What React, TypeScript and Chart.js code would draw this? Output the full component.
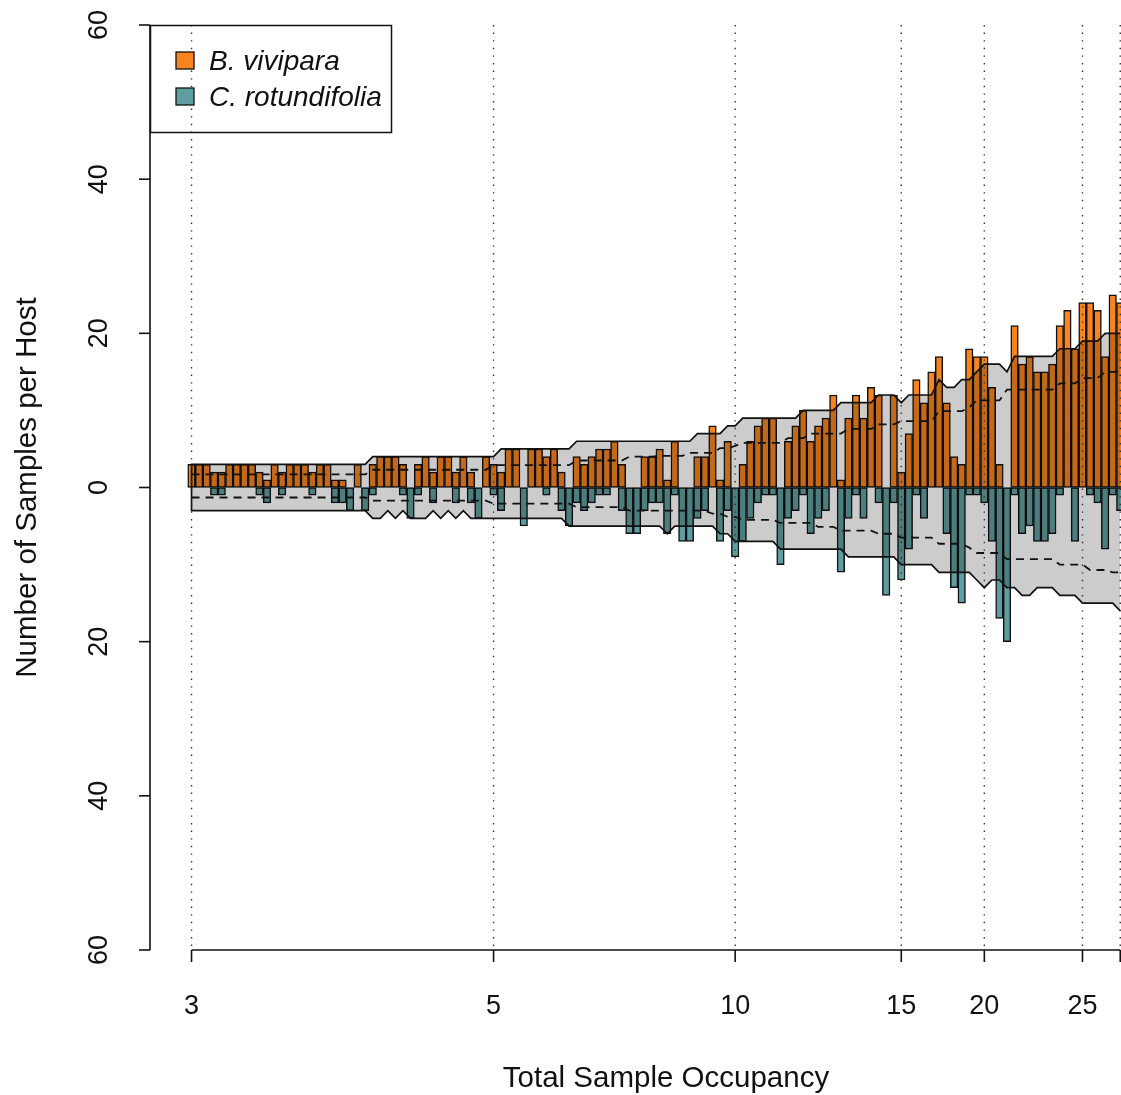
import React, { useEffect, useRef } from 'react';
import { Chart, registerables } from 'chart.js';

Chart.register(...registerables);

// Bars ordered by total sample occupancy (rank index along the x axis)
const vivipara = [
  3, 3, 3, 2, 2, 3, 3, 3, 3, 2,
  1, 3, 2, 3, 3, 3, 2, 3, 3, 1,
  1, 0, 3, 0, 3, 4, 4, 4, 3, 0,
  3, 4, 2, 4, 4, 2, 4, 2, 0, 4,
  3, 2, 5, 5, 0, 5, 5, 4, 5, 2,
  0, 4, 3, 4, 5, 5, 6, 3, 0, 0,
  4, 4, 5, 1, 6, 0, 0, 4, 4, 8,
  1, 6, 0, 3, 6, 8, 9, 9, 0, 6,
  8, 10, 6, 8, 9, 12, 1, 9, 12, 9,
  13, 12, 0, 12, 2, 7, 14, 11, 15, 17,
  11, 4, 3, 18, 17, 17, 13, 3, 0, 21,
  16, 17, 15, 15, 16, 21, 23, 18, 24, 24,
  23, 17, 25, 24,
];
const rotundifolia = [
  0, 0, 0, 1, 1, 0, 0, 0, 0, 1,
  2, 0, 1, 0, 0, 0, 1, 0, 0, 2,
  2, 3, 0, 3, 1, 0, 0, 0, 1, 4,
  1, 0, 2, 0, 0, 2, 0, 2, 4, 0,
  1, 3, 0, 0, 5, 0, 0, 1, 0, 3,
  5, 2, 3, 2, 1, 1, 0, 3, 6, 6,
  3, 2, 2, 6, 1, 7, 7, 4, 3, 0,
  7, 3, 9, 7, 4, 2, 1, 1, 10, 4,
  3, 1, 6, 4, 3, 0, 11, 4, 1, 4,
  0, 2, 14, 2, 12, 8, 1, 4, 0, 0,
  6, 13, 15, 1, 1, 2, 7, 17, 20, 1,
  6, 5, 7, 7, 6, 1, 0, 7, 0, 1,
  2, 8, 1, 3,
];
// null-model envelope (upper bound for each host) and expectation
const viviparaUpper = [
  3, 3, 3, 3, 3, 3, 3, 3, 3, 3,
  3, 3, 3, 3, 3, 3, 3, 3, 3, 3,
  3, 3, 3, 3, 4, 4, 4, 4, 4, 4,
  4, 4, 4, 4, 4, 4, 4, 4, 4, 4,
  4, 5, 5, 5, 5, 5, 5, 5, 5, 5,
  5, 6, 6, 6, 6, 6, 6, 6, 6, 6,
  6, 6, 6, 6, 6, 6, 6, 7, 7, 7,
  7, 8, 8, 9, 9, 9, 9, 9, 9, 9,
  9, 10, 10, 10, 10, 10, 11, 11, 11, 11,
  11, 12, 12, 12, 11, 12, 12, 12, 12, 14,
  13, 13, 14, 14, 15, 16, 16, 16, 15, 17,
  17, 17, 17, 17, 17, 18, 18, 18, 19, 19,
  19, 20, 20, 20,
];
const rotundifoliaUpper = [
  3, 3, 3, 3, 3, 3, 3, 3, 3, 3,
  3, 3, 3, 3, 3, 3, 3, 3, 3, 3,
  3, 3, 3, 3, 4, 4, 3, 4, 3, 4,
  4, 4, 3, 4, 3, 4, 3, 4, 4, 4,
  4, 4, 4, 4, 4, 4, 4, 4, 4, 4,
  5, 5, 5, 5, 5, 5, 5, 5, 5, 5,
  5, 5, 5, 6, 5, 5, 5, 5, 5, 5,
  6, 6, 7, 7, 7, 7, 7, 7, 8, 8,
  8, 8, 8, 8, 8, 8, 8, 9, 9, 9,
  9, 9, 9, 9, 10, 10, 10, 10, 10, 11,
  11, 11, 11, 11, 12, 13, 12, 12, 13, 13,
  14, 14, 13, 13, 13, 14, 14, 14, 15, 15,
  15, 15, 15, 16,
];
const viviparaExpected = [
  1.7, 1.7, 1.7, 1.7, 1.7, 1.7, 1.7, 1.7, 1.7, 1.7,
  1.7, 1.7, 1.7, 1.7, 1.7, 1.7, 1.7, 1.7, 1.7, 1.7,
  1.7, 1.7, 1.7, 1.7, 2.3, 2.3, 2.3, 2.3, 2.3, 2.3,
  2.3, 2.3, 2.3, 2.3, 2.3, 2.3, 2.3, 2.3, 2.3, 2.3,
  2.9, 2.9, 2.9, 2.9, 2.9, 2.9, 2.9, 2.9, 2.9, 2.9,
  2.9, 3.5, 3.5, 3.5, 3.5, 3.5, 3.5, 3.5, 4.0, 4.0,
  4.0, 4.0, 4.1, 4.1, 4.1, 4.1, 4.5, 4.5, 4.5, 4.5,
  5.1, 5.1, 5.4, 5.8, 5.8, 5.8, 5.8, 5.8, 5.8, 6.4,
  6.4, 6.4, 7.0, 7.0, 7.0, 7.0, 7.0, 7.6, 7.6, 7.6,
  7.6, 8.2, 8.2, 8.2, 8.6, 8.6, 8.6, 8.6, 8.6, 9.9,
  9.9, 9.9, 9.9, 10.4, 11.3, 11.3, 11.3, 11.3, 12.7, 12.7,
  12.7, 12.7, 12.7, 12.7, 12.7, 13.5, 13.5, 13.5, 14.2, 14.2,
  14.2, 15.0, 15.0, 15.0,
];
const rotundifoliaExpected = [
  1.3, 1.3, 1.3, 1.3, 1.3, 1.3, 1.3, 1.3, 1.3, 1.3,
  1.3, 1.3, 1.3, 1.3, 1.3, 1.3, 1.3, 1.3, 1.3, 1.3,
  1.3, 1.3, 1.3, 1.3, 1.7, 1.7, 1.7, 1.7, 1.7, 1.7,
  1.7, 1.7, 1.7, 1.7, 1.7, 1.7, 1.7, 1.7, 1.7, 1.7,
  2.1, 2.1, 2.1, 2.1, 2.1, 2.1, 2.1, 2.1, 2.1, 2.1,
  2.1, 2.55, 2.55, 2.55, 2.55, 2.55, 2.55, 2.55, 3.0, 3.0,
  3.0, 3.0, 3.0, 3.0, 3.0, 3.0, 3.0, 3.0, 3.0, 3.4,
  3.4, 3.8, 3.8, 4.2, 4.2, 4.2, 4.2, 4.2, 4.6, 4.6,
  4.6, 4.6, 4.6, 5.1, 5.1, 5.1, 5.6, 5.6, 5.6, 5.6,
  5.6, 6.0, 6.0, 6.0, 6.5, 6.5, 6.5, 6.5, 6.5, 7.3,
  7.3, 7.3, 7.3, 7.8, 8.5, 8.5, 8.5, 8.5, 9.3, 9.3,
  9.3, 9.3, 9.3, 9.3, 9.3, 10.0, 10.0, 10.0, 10.0, 10.7,
  10.7, 10.7, 11.0, 11.0,
];

const seriesNames = ['B. vivipara', 'C. rotundifolia'];
const xTickIndex = [0, 40, 72, 94, 105, 118, 123];
const xTickLabels = ['3', '5', '10', '15', '20', '25', ''];
const yTickValues = [-60, -40, -20, 0, 20, 40, 60];
const yTickLabels = ['60', '40', '20', '0', '20', '40', '60'];
const xRange = [-5.5, 123.1];
const yRange = [-60, 60];
const xTitle = 'Total Sample Occupancy';
const yTitle = 'Number of Samples per Host';

const ORANGE = '#F7841F';
const TEAL = '#5F9EA0';
const FONT = "'Liberation Sans', Arial, Helvetica, sans-serif";
const INK = '#111111';

const barIndex = vivipara.map((_, i) => i);

const rAxesPlugin = {
  id: 'rAxes',
  afterDatasetsDraw(chart: any) {
    const { ctx } = chart;
    const xs = chart.scales.x;
    const ys = chart.scales.y;
    const top = ys.getPixelForValue(yRange[1]);
    const bottom = ys.getPixelForValue(yRange[0]);
    ctx.save();
    // dotted reference lines at tick positions
    ctx.strokeStyle = '#333333';
    ctx.lineWidth = 1.4;
    ctx.setLineDash([1.4, 6.2]);
    xs.ticks.forEach((t: any) => {
      const px = xs.getPixelForValue(t.value);
      ctx.beginPath();
      ctx.moveTo(px, top);
      ctx.lineTo(px, bottom);
      ctx.stroke();
    });
    ctx.setLineDash([]);
    ctx.restore();
  },
  afterDraw(chart: any) {
    const { ctx, chartArea } = chart;
    const xs = chart.scales.x;
    const ys = chart.scales.y;
    const left = chartArea.left;
    const base = chartArea.bottom;
    ctx.save();
    ctx.strokeStyle = INK;
    ctx.fillStyle = INK;
    ctx.lineWidth = 1.6;
    // y axis
    ctx.beginPath();
    ctx.moveTo(left, ys.getPixelForValue(yTickValues[yTickValues.length - 1]));
    ctx.lineTo(left, ys.getPixelForValue(yTickValues[0]));
    ctx.stroke();
    ctx.font = `27px ${FONT}`;
    ys.ticks.forEach((t: any, k: number) => {
      const py = ys.getPixelForValue(t.value);
      ctx.beginPath();
      ctx.moveTo(left, py);
      ctx.lineTo(left - 11, py);
      ctx.stroke();
      ctx.save();
      ctx.translate(left - 43, py);
      ctx.rotate(-Math.PI / 2);
      ctx.textAlign = 'center';
      ctx.textBaseline = 'alphabetic';
      ctx.fillText(yTickLabels[k], 0, 0);
      ctx.restore();
    });
    // x axis
    const x0 = xs.getPixelForValue(xs.ticks[0].value);
    const x1 = xs.getPixelForValue(xs.ticks[xs.ticks.length - 1].value);
    ctx.beginPath();
    ctx.moveTo(x0, base);
    ctx.lineTo(x1, base);
    ctx.stroke();
    ctx.textAlign = 'center';
    ctx.textBaseline = 'alphabetic';
    xs.ticks.forEach((t: any, k: number) => {
      const px = xs.getPixelForValue(t.value);
      ctx.beginPath();
      ctx.moveTo(px, base);
      ctx.lineTo(px, base + 12);
      ctx.stroke();
      ctx.fillText(xTickLabels[k], px, base + 64);
    });
    // titles
    ctx.font = `29.5px ${FONT}`;
    ctx.fillText(xTitle, 666, base + 137);
    ctx.save();
    ctx.translate(left - 114, (chartArea.top + chartArea.bottom) / 2);
    ctx.rotate(-Math.PI / 2);
    ctx.fillText(yTitle, 0, 0);
    ctx.restore();
    // legend
    const lx = left;
    const ly = chartArea.top;
    ctx.lineWidth = 1.5;
    ctx.strokeRect(lx + 0.5, ly + 0.5, 241, 107);
    const colors = [ORANGE, TEAL];
    ctx.font = `italic 28px ${FONT}`;
    ctx.textAlign = 'left';
    seriesNames.forEach((name, k) => {
      const sy = ly + 27 + k * 36;
      ctx.fillStyle = colors[k];
      ctx.fillRect(lx + 26, sy, 18, 17);
      ctx.lineWidth = 1.3;
      ctx.strokeStyle = INK;
      ctx.strokeRect(lx + 26, sy, 18, 17);
      ctx.fillStyle = INK;
      ctx.fillText(name, lx + 59, sy + 18);
    });
    ctx.restore();
  },
};

export default function App() {
  const canvasRef = useRef<HTMLCanvasElement | null>(null);

  useEffect(() => {
    if (!canvasRef.current) return;
    const envelopePoints = [
      ...barIndex.slice().reverse().map((i) => ({ x: i, y: -rotundifoliaUpper[i] })),
      ...barIndex.map((i) => ({ x: i, y: viviparaUpper[i] })),
    ];
    const dashed = {
      type: 'line',
      borderColor: INK,
      borderWidth: 1.8,
      borderDash: [8, 6],
      pointRadius: 0,
      tension: 0,
      fill: false,
      order: 0,
    };
    const barStyle = {
      type: 'bar',
      borderColor: INK,
      borderWidth: 1.5,
      borderSkipped: false,
      grouped: false,
      barPercentage: 1,
      categoryPercentage: 1,
      order: 3,
    };
    const chart = new Chart(canvasRef.current, {
      type: 'bar',
      data: {
        datasets: [
          {
            ...dashed,
            label: 'expected vivipara',
            data: barIndex.map((i) => ({ x: i, y: viviparaExpected[i] })),
          } as any,
          {
            ...dashed,
            label: 'expected rotundifolia',
            data: barIndex.map((i) => ({ x: i, y: -rotundifoliaExpected[i] })),
          } as any,
          {
            type: 'line',
            label: 'envelope',
            data: envelopePoints,
            borderColor: INK,
            borderWidth: 1.7,
            backgroundColor: 'rgba(0,0,0,0.2)',
            pointRadius: 0,
            tension: 0,
            fill: 'shape',
            order: 1,
          } as any,
          {
            ...barStyle,
            label: seriesNames[0],
            data: barIndex.map((i) => ({ x: i, y: vivipara[i] })),
            backgroundColor: ORANGE,
          } as any,
          {
            ...barStyle,
            label: seriesNames[1],
            data: barIndex.map((i) => ({ x: i, y: -rotundifolia[i] })),
            backgroundColor: TEAL,
          } as any,
        ],
      },
      options: {
        animation: false,
        responsive: false,
        maintainAspectRatio: false,
        events: [],
        layout: { padding: { left: 150, top: 25, right: 0, bottom: 145 } },
        plugins: {
          legend: { display: false },
          tooltip: { enabled: false },
          filler: { propagate: false },
        },
        scales: {
          x: {
            type: 'linear',
            min: xRange[0],
            max: xRange[1],
            offset: false,
            display: false,
            afterBuildTicks: (scale: any) => {
              scale.ticks = xTickIndex.map((v) => ({ value: v }));
            },
          },
          y: {
            type: 'linear',
            min: yRange[0],
            max: yRange[1],
            display: false,
            afterBuildTicks: (scale: any) => {
              scale.ticks = yTickValues.map((v) => ({ value: v }));
            },
          },
        },
      } as any,
      plugins: [rAxesPlugin],
    });
    return () => chart.destroy();
  }, []);

  return (
    <div style={{ position: 'absolute', left: 0, top: 0, width: 1121, height: 1095, background: '#ffffff', overflow: 'hidden' }}>
      <canvas ref={canvasRef} width={1121} height={1095} style={{ display: 'block' }} />
    </div>
  );
}
